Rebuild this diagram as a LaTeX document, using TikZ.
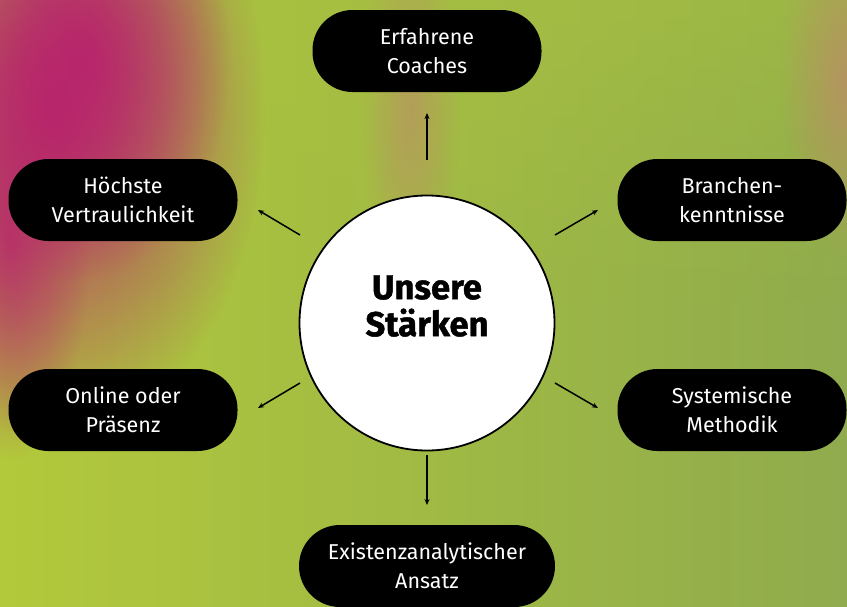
\documentclass[tikz,border=0pt]{standalone}
\usepackage{fontspec}
\setmainfont{Fira Sans}
\newfontfamily\titlefont{Fira Sans}[BoldFeatures={FakeBold=1.3}]
\usetikzlibrary{arrows.meta,fadings,shapes.geometric}
\tikzfading[name=softblob, inner color=transparent!0, outer color=transparent!100]
\definecolor{bgleft}{HTML}{B2C93B}
\definecolor{bgright}{HTML}{8FAB4D}
\definecolor{bgmid}{HTML}{A9C240}
\definecolor{magentabg}{HTML}{B8256C}
\definecolor{tanbg}{HTML}{BE8A68}
\begin{document}
\begin{tikzpicture}[x=1pt,y=-1pt,
  pill/.style={fill=black, rounded corners=40pt, minimum width=229pt, minimum height=82pt,
    text=white, align=center, inner sep=0pt, font=\fontsize{21.5}{29}\selectfont},
  hub/.style={circle, draw=black, line width=1.8pt, fill=white, minimum size=255pt, inner sep=0pt},
  arr/.style={-{Stealth[length=6pt,width=5pt]}, line width=1.5pt, draw=black}]
\useasboundingbox (0,0) rectangle (847,606);
\begin{scope}
\clip (0,0) rectangle (847,606);
% background
\shade[left color=bgleft, right color=bgright] (0,0) rectangle (847,606);
\fill[bgmid, opacity=0.5, path fading=south] (0,0) rectangle (847,300);
% magenta region on the left
\fill[magentabg, path fading=softblob] (55,110) ellipse [x radius=210pt, y radius=330pt];
\fill[magentabg, path fading=softblob] (80,60) ellipse [x radius=150pt, y radius=220pt];
\fill[magentabg, opacity=0.8, path fading=softblob] (10,240) ellipse [x radius=80pt, y radius=220pt];
% pinkish band top centre
\fill[tanbg, opacity=0.6, path fading=softblob] (410,110) ellipse [x radius=50pt, y radius=190pt];
% tan band top right
\fill[tanbg, opacity=0.75, path fading=softblob] (845,80) ellipse [x radius=65pt, y radius=180pt];
\end{scope}

\node[hub] (c) at (427,323) {};
\node[font=\titlefont\bfseries\fontsize{34.5}{37}\selectfont, align=center, inner sep=0pt] (t) at (427,306) {Unsere\\Stärken};

\node[pill] (n1) at (427,51) {Erfahrene\\Coaches};
\node[pill] (n2) at (123,200) {Höchste\\Vertraulichkeit};
\node[pill] (n3) at (732,200) {Branchen-\\kenntnisse};
\node[pill] (n4) at (123,410) {Online oder\\Präsenz};
\node[pill] (n5) at (732,410) {Systemische\\Methodik};
\node[pill, minimum width=256pt, rounded corners=41pt] (n6) at (427,566) {Existenzanalytischer\\Ansatz};

\coordinate (s1) at (427,160); \coordinate (e1) at (427,113);
\coordinate (s2) at (300,235); \coordinate (e2) at (258,210);
\coordinate (s3) at (555,235); \coordinate (e3) at (598,210);
\coordinate (s4) at (300,383); \coordinate (e4) at (258,408);
\coordinate (s5) at (555,383); \coordinate (e5) at (598,408);
\coordinate (s6) at (427,455); \coordinate (e6) at (427,505);
\foreach \i in {1,...,6} {\draw[arr] (s\i) -- (e\i);}
\end{tikzpicture}
\end{document}
